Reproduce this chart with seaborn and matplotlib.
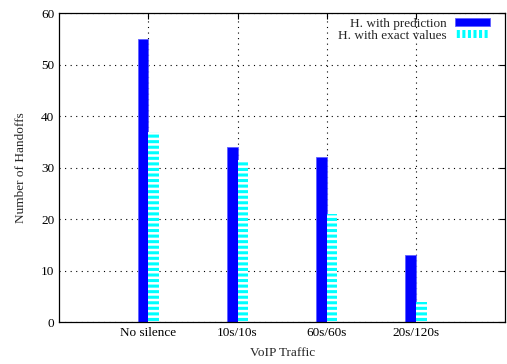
import matplotlib
matplotlib.use("Agg")
import matplotlib.pyplot as plt
from matplotlib.patches import Patch
import pandas as pd
import seaborn as sns

categories = ["No silence", "10s/10s", "60s/60s", "20s/120s"]
series_names = ["H. with prediction", "H. with exact values"]
prediction = [55, 34, 32, 13]
exact = [37, 31.5, 21, 4]
y_ticks = [0, 10, 20, 30, 40, 50, 60]

sns.set_style("white")
plt.rcParams["font.family"] = ["Liberation Serif", "DejaVu Serif"]
plt.rcParams["font.size"] = 9.5
plt.rcParams["hatch.linewidth"] = 2.2

df = pd.DataFrame({
    "traffic": categories * 2,
    "handoffs": prediction + exact,
    "series": [series_names[0]] * 4 + [series_names[1]] * 4,
})

fig = plt.figure(figsize=(5.07, 3.64), dpi=100)
ax = fig.add_axes([0.117, 0.115, 0.879, 0.849])

sns.barplot(data=df, x="traffic", y="handoffs", hue="series",
            palette=["#0000ff", "#00ffff"], width=0.24, gap=0,
            saturation=1, legend=False, ax=ax, errorbar=None)

# gnuplot-style striped fill for the exact values
for bar in ax.containers[1]:
    bar.set_facecolor("white")
    bar.set_edgecolor("#00ffff")
    bar.set_hatch("---")
    bar.set_linewidth(0)
for bar in ax.containers[0]:
    bar.set_edgecolor("#6060ff")
    bar.set_linewidth(0.6)

ax.set_xlim(-1, 4)
ax.set_ylim(0, 60)
ax.set_yticks(y_ticks)
ax.set_axisbelow(True)
ax.grid(True, color="black", linestyle=(0, (1, 4)), linewidth=0.8)
ax.tick_params(direction="in", top=True, right=True, length=4, width=0.8,
               labelsize=9.5, colors="black")
for s in ax.spines.values():
    s.set_visible(True)
    s.set_color("black")
    s.set_linewidth(0.9)

ax.set_xlabel("VoIP Traffic", fontsize=9.5, labelpad=6)
ax.set_ylabel("Number of Handoffs", fontsize=9.5, labelpad=10)

handles = [
    Patch(facecolor="#0000ff", edgecolor="#6060ff", linewidth=0.6),
    Patch(facecolor="white", edgecolor="#00ffff", hatch="|||", linewidth=0),
]
ax.legend(handles, series_names, loc="upper right", frameon=False,
          bbox_to_anchor=(0.973, 0.993), markerfirst=False,
          handlelength=2.7, handleheight=0.6, handletextpad=0.6,
          labelspacing=0.0, borderaxespad=0, borderpad=0.2, fontsize=9.5)

fig.savefig("out.png", dpi=100)
